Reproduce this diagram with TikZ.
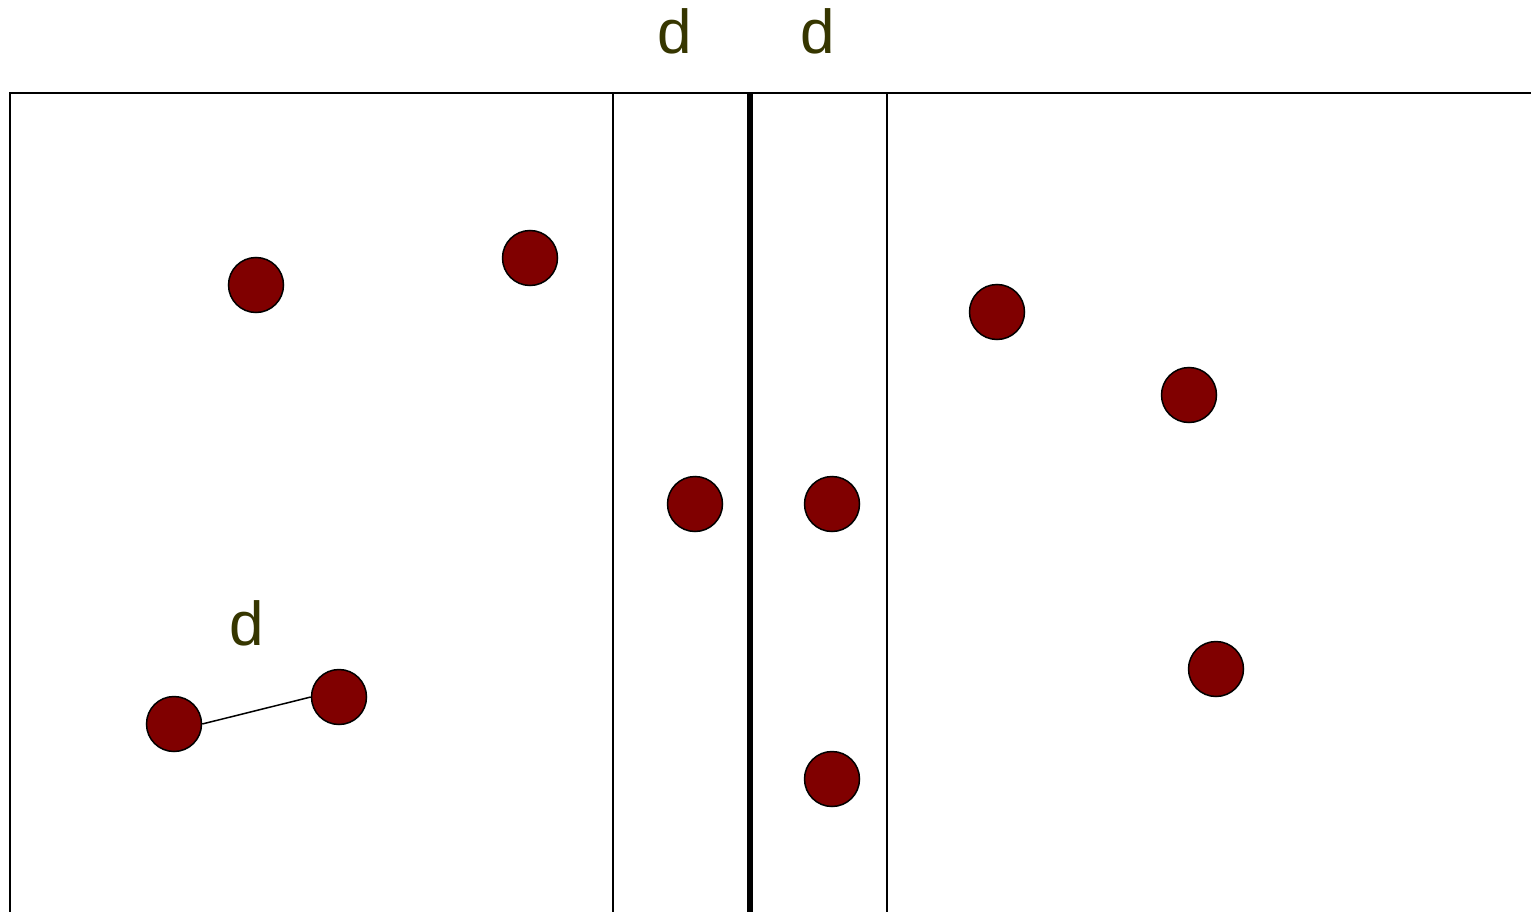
\documentclass[tikz,border=0pt]{standalone}
\usepackage{fontspec}
\setmainfont{Liberation Sans}
\definecolor{dotred}{RGB}{128,0,0}
\definecolor{labcol}{RGB}{54,54,0}
\tikzset{
  dot/.style={circle,draw=black,line width=1.5pt,fill=dotred,minimum size=55pt,inner sep=0pt},
  lab/.style={text=labcol,font=\fontsize{62}{62}\selectfont,inner sep=0pt,anchor=base},
  thin/.style={line width=1.5pt}
}
\begin{document}
\begin{tikzpicture}[x=1pt,y=-1pt]
\useasboundingbox (0,0) rectangle (1531,912);
\coordinate (tl) at (10,93);
\coordinate (tr) at (1531,93);
\coordinate (bl) at (10,912);
\draw[thin] (bl) -- (tl) -- (tr);
\coordinate (a1) at (613,93); \coordinate (a2) at (613,912);
\coordinate (b1) at (887,93); \coordinate (b2) at (887,912);
\coordinate (c1) at (750,93); \coordinate (c2) at (750,912);
\draw[thin] (a1) -- (a2);
\draw[thin] (b1) -- (b2);
\draw[line width=6pt] (c1) -- (c2);
\node[lab] (d1) at (675,54) {d};
\node[lab] (d2) at (818,54) {d};
\node[lab] (d3) at (247,645) {d};
\node[dot] (p1) at (256,285) {};
\node[dot] (p2) at (530,258) {};
\node[dot] (p3) at (997,312) {};
\node[dot] (p4) at (1189,395) {};
\node[dot] (p5) at (695,504) {};
\node[dot] (p6) at (832,504) {};
\node[dot] (p7) at (1216,669) {};
\node[dot] (p8) at (832,779) {};
\node[dot] (p9) at (174,724) {};
\node[dot] (p10) at (339,697) {};
\draw[thin] (p9.east) -- (p10.west);
\end{tikzpicture}
\end{document}
